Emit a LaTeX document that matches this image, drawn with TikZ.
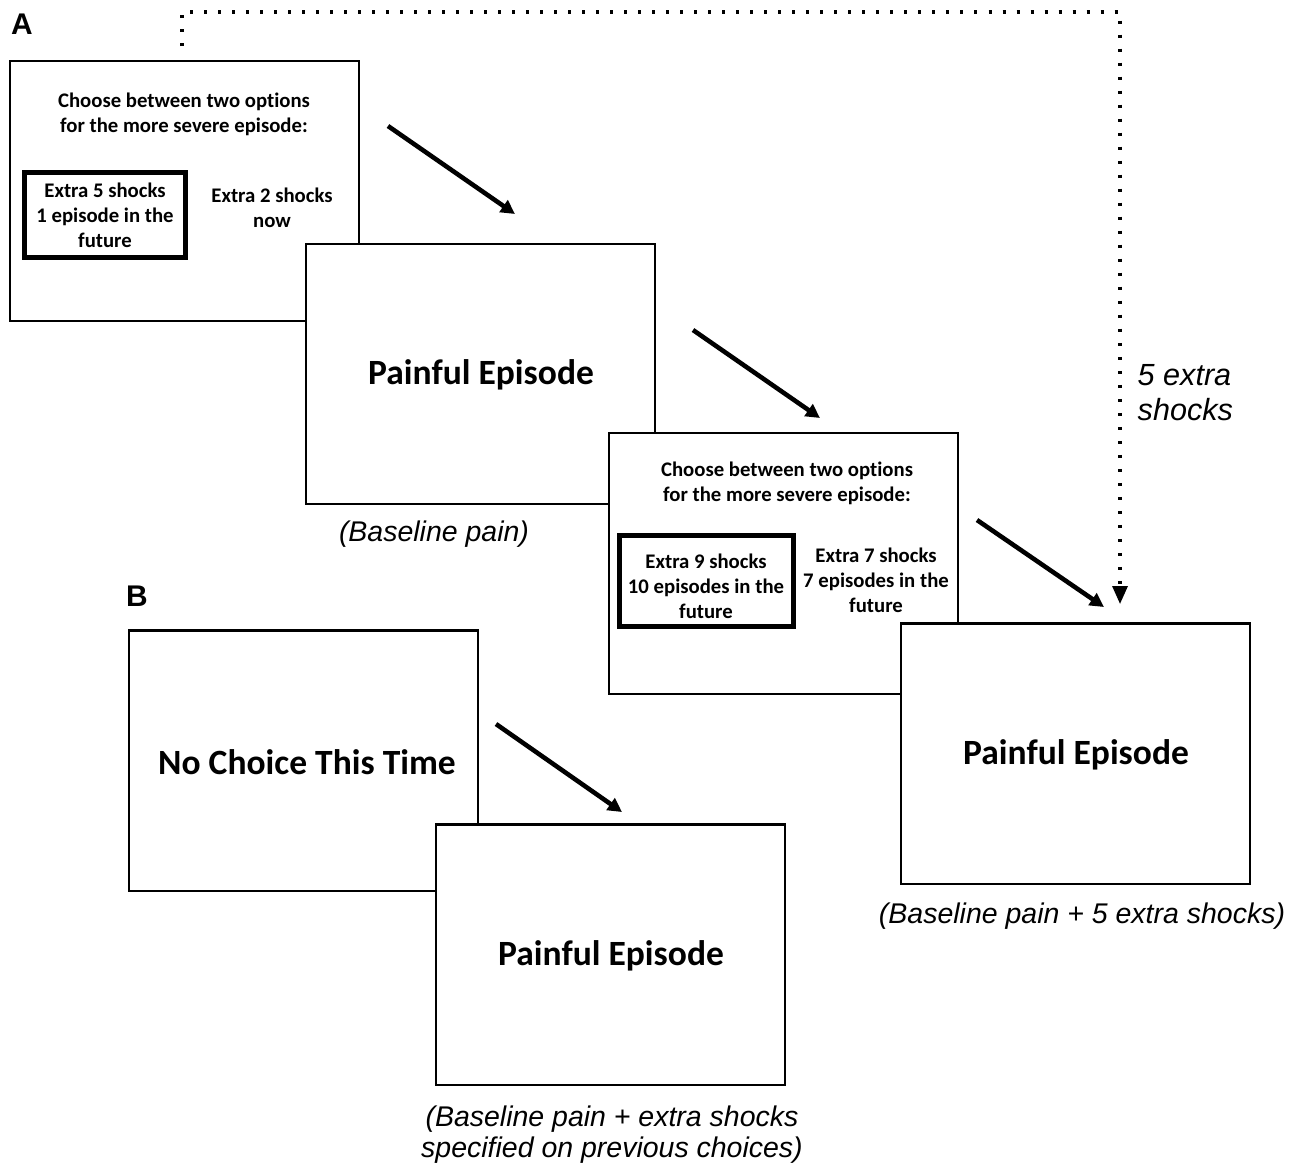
\documentclass[tikz,border=0pt]{standalone}
\usepackage{fontspec}
\setmainfont{Carlito}[Ligatures=NoCommon]
\newfontfamily\arialfont{Liberation Sans}
\usetikzlibrary{arrows.meta}

\tikzset{
  screen/.style={draw, line width=0.6pt, fill=white, minimum width=3.49cm, minimum height=2.60cm, inner sep=0pt},
  option/.style={draw, line width=1.4pt, inner sep=0pt},
  small/.style={font=\fontsize{5.9}{7.1}\selectfont\bfseries, align=center},
  big/.style={font=\fontsize{10.1}{12}\selectfont\bfseries},
  note/.style={font=\arialfont\fontsize{8.1}{8.8}\selectfont\itshape, align=center},
  panel/.style={font=\arialfont\fontsize{8.5}{10}\selectfont\bfseries},
  next/.style={line width=1.3pt, -{Triangle[length=0.14cm, width=0.14cm]}},
  carry/.style={line width=0.9pt, dash pattern=on 0.03cm off 0.11cm, -{Triangle[length=0.18cm, width=0.15cm]}}
}

\begin{document}
\begin{tikzpicture}[x=0.01cm, y=-0.01cm]
\useasboundingbox (0,0) rectangle (1295,1163);

\node (lA) at (22,24) [panel] {A};
\node (lB) at (137,596) [panel] {B};

% first choice
\node (s1) at (184.5,191) [screen] {};
\node (q1) at (184,114) [small] {Choose between two options\\for the more severe episode:};
\node (o1) at (105,215) [option, minimum width=1.61cm, minimum height=0.85cm] {};
\node (t1) at (105,215) [small] {Extra 5 shocks\\1 episode in the\\future};
\node (u1) at (272,208) [small] {Extra 2 shocks\\now};

\node (s2) at (480.5,374) [screen] {};
\node (p2) at (481,375) [big] {Painful Episode};
\node (n2) at (434,534) [note] {(Baseline pain)};

% second choice
\node (s3) at (783.5,563.5) [screen] {};
\node (q3) at (787,483) [small] {Choose between two options\\for the more severe episode:};
\node (o3) at (706.5,581) [option, minimum width=1.74cm, minimum height=0.91cm] {};
\node (t3) at (706,586) [small] {Extra 9 shocks\\10 episodes in the\\future};
\node (u3) at (876,580) [small] {Extra 7 shocks\\7 episodes in the\\future};

\node (s4) at (1075.5,753.5) [screen] {};
\node (p4) at (1076,755) [big] {Painful Episode};
\node (n4) at (1082,916) [note] {(Baseline pain + 5 extra shocks)};

% panel B
\node (s5) at (303.5,760.5) [screen] {};
\node (p5) at (307,762) [big] {No Choice This Time};

\node (s6) at (610.5,954.5) [screen] {};
\node (p6) at (611,956) [big] {Painful Episode};
\node (n6) at (612,1135) [note] {(Baseline pain + extra shocks\\specified on previous choices)};

\coordinate (a1) at (388,126);
\coordinate (b1) at (515,214);
\coordinate (a2) at (693,330);
\coordinate (b2) at (820,418);
\coordinate (a3) at (977,520);
\coordinate (b3) at (1104,607);
\coordinate (a4) at (496,724);
\coordinate (b4) at (622,812);
\draw[next] (a1) -- (b1);
\draw[next] (a2) -- (b2);
\draw[next] (a3) -- (b3);
\draw[next] (a4) -- (b4);

\coordinate (d0) at (182,46);
\coordinate (d1) at (1120,604);
\draw[carry] (d0) |- (1120,12) -- (d1);
\node (x4) at (1137,393) [anchor=west, inner sep=0pt, note, align=left, font=\arialfont\fontsize{8.7}{10}\selectfont\itshape] {5 extra\\shocks};

\end{tikzpicture}
\end{document}
